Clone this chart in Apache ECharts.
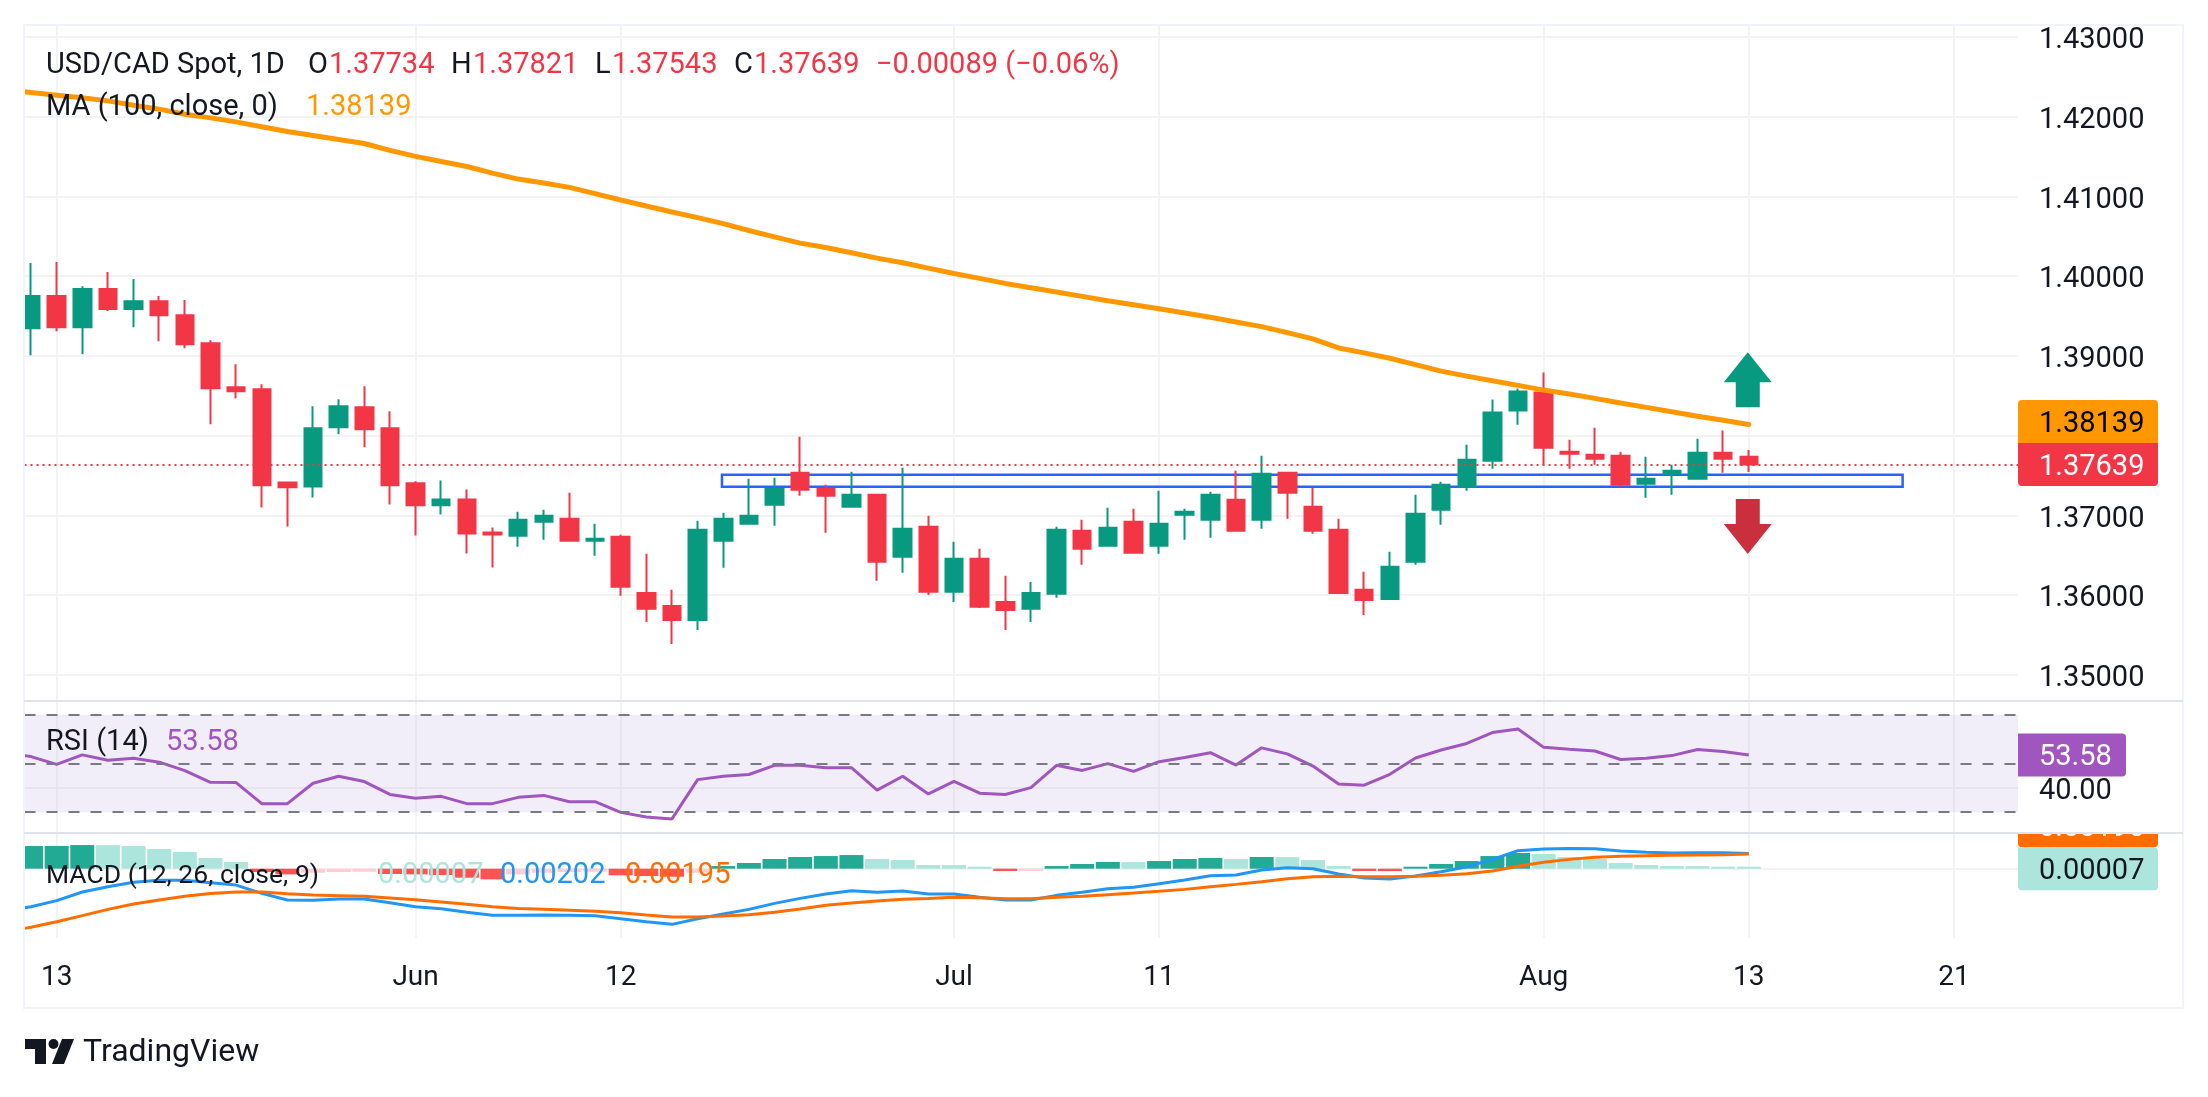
<!DOCTYPE html>
<html>
<head>
<meta charset="utf-8">
<title>USD/CAD Spot</title>
<style>
  html, body { margin: 0; padding: 0; background: #fff; }
  #chart { width: 2208px; height: 1097px; }
</style>
<script src="https://cdn.jsdelivr.net/npm/echarts@6/dist/echarts.min.js"></script>
</head>
<body>
<div id="chart"></div>
<script>
// daily candles, 12 May to 13 Aug
var opens = [1.39347,1.39749,1.3936,1.39837,1.39586,1.39686,1.3951,1.39159,1.38607,1.38582,1.37414,1.37364,1.38105,1.38356,1.38092,1.37402,1.37126,1.37201,1.36787,1.36745,1.36921,1.36958,1.36682,1.36732,1.36029,1.35866,1.3569,1.36682,1.36895,1.37134,1.37536,1.37335,1.37109,1.37259,1.36481,1.36858,1.36042,1.36456,1.35916,1.35829,1.36017,1.36808,1.36619,1.36921,1.36619,1.37008,1.36946,1.37197,1.36946,1.37536,1.37109,1.3682,1.36067,1.35954,1.36418,1.37071,1.3736,1.37686,1.38314,1.3854,1.37799,1.37762,1.37749,1.37397,1.37523,1.3746,1.37787,1.37734];
var closes = [1.39749,1.3936,1.39837,1.39586,1.39686,1.3951,1.39146,1.38594,1.38557,1.37377,1.37352,1.38092,1.38368,1.3808,1.37377,1.37126,1.37201,1.36774,1.36762,1.36946,1.36996,1.36682,1.36707,1.36105,1.35829,1.3569,1.3682,1.36958,1.36996,1.37335,1.37322,1.37247,1.37259,1.36418,1.36833,1.36042,1.36456,1.35854,1.35816,1.36029,1.3682,1.36582,1.36845,1.36531,1.36895,1.37046,1.37259,1.36808,1.37523,1.37285,1.36808,1.36029,1.35941,1.36356,1.37021,1.37385,1.37699,1.38289,1.38552,1.37849,1.37774,1.37711,1.37385,1.3746,1.37561,1.37787,1.37711,1.37639];
var lows = [1.39008,1.3931,1.39021,1.39561,1.3936,1.39184,1.39096,1.38142,1.38469,1.371,1.36862,1.37226,1.38017,1.37854,1.37138,1.36749,1.37013,1.36523,1.36347,1.36607,1.36695,1.36682,1.36494,1.35992,1.35665,1.35389,1.35565,1.36343,1.36883,1.3687,1.37247,1.36782,1.37109,1.3618,1.3628,1.36004,1.35916,1.35841,1.35565,1.35665,1.35967,1.36381,1.36607,1.36531,1.36519,1.36695,1.3672,1.36795,1.36833,1.36958,1.3677,1.36029,1.35753,1.35954,1.36381,1.36883,1.3731,1.37586,1.38138,1.37636,1.37586,1.37636,1.3736,1.37222,1.37259,1.37448,1.37536,1.37543];
var highs = [1.40163,1.40176,1.39874,1.4005,1.39962,1.39749,1.39699,1.39197,1.38895,1.38644,1.37414,1.38368,1.38456,1.38619,1.38305,1.37427,1.37439,1.37326,1.36849,1.37046,1.37071,1.37285,1.36895,1.36757,1.36519,1.36067,1.36933,1.37033,1.3746,1.37473,1.37987,1.37385,1.37548,1.37272,1.37598,1.36996,1.36669,1.36582,1.36243,1.36167,1.36858,1.36946,1.37096,1.37084,1.3731,1.37084,1.37297,1.37561,1.37749,1.37536,1.37347,1.36958,1.36293,1.36544,1.37259,1.37423,1.37887,1.38452,1.3859,1.38791,1.3795,1.381,1.37799,1.37736,1.37636,1.37962,1.38063,1.37821];
// 100 day moving average
var maValues = [1.423,1.42267,1.42234,1.42196,1.42142,1.42092,1.42029,1.41983,1.41933,1.41871,1.41812,1.41762,1.41712,1.41662,1.41575,1.415,1.41437,1.41374,1.41291,1.41216,1.41166,1.41112,1.41033,1.40953,1.40878,1.40803,1.40732,1.40657,1.40571,1.40492,1.40413,1.40359,1.40292,1.40225,1.40167,1.401,1.40033,1.39971,1.39908,1.39854,1.398,1.39746,1.39691,1.39641,1.39591,1.39537,1.39483,1.39425,1.39366,1.39291,1.39212,1.39099,1.39037,1.3897,1.3889,1.38809,1.38746,1.38688,1.3863,1.38571,1.38521,1.38467,1.38409,1.38354,1.383,1.38242,1.38192,1.38139];
var rsiValues = [52.9,49.7,53.6,51.4,52.2,50.6,47.1,42.3,42.2,33.5,33.5,41.9,44.8,42.6,37.3,35.7,36.5,33.5,33.5,36.1,36.9,34.3,34.3,29.9,28,27.2,43.4,44.8,45.5,49.3,49.3,48.3,48.3,39.1,44.8,37.5,42.7,37.8,37.3,40.1,49.3,47.2,50,46.8,50.8,52.5,54.5,49.4,56.5,54,49,41.6,41.1,45.6,52.3,55.6,58.3,62.8,64.3,56.7,55.9,55.2,51.7,52.2,53.3,55.8,55,53.58];
var macdValues = [-.00502,-.00422,-.00308,-.00238,-.0018,-.00154,-.00154,-.00185,-.00216,-.00326,-.00414,-.00418,-.004,-.004,-.00449,-.00502,-.00528,-.00576,-.00616,-.00616,-.00612,-.00616,-.0062,-.0066,-.007,-.00735,-.0066,-.00598,-.00537,-.00458,-.00392,-.00334,-.0029,-.00312,-.00295,-.00334,-.00334,-.00378,-.00414,-.00414,-.00352,-.00312,-.00264,-.00246,-.00198,-.0015,-.00092,-.00084,-.00018,.00013,0,-.0007,-.00123,-.00136,-.00097,-.0004,.00026,.00123,.00238,.0026,.00268,.00264,.00233,.00216,.00207,.00211,.00211,.00202];
var signalValues = [-.00774,-.007,-.0062,-.00537,-.00466,-.00414,-.00365,-.00326,-.00308,-.00308,-.0033,-.00348,-.00356,-.00365,-.00387,-.00409,-.0044,-.00471,-.00502,-.00524,-.00537,-.0055,-.00563,-.00581,-.00612,-.00638,-.00638,-.00625,-.00607,-.00576,-.00532,-.00484,-.00453,-.00427,-.00405,-.00392,-.00378,-.00383,-.00396,-.00396,-.00378,-.00365,-.00343,-.00321,-.00299,-.00273,-.00238,-.00207,-.00172,-.00132,-.00106,-.00101,-.00106,-.00106,-.00101,-.00088,-.00066,-.00031,.00031,.00084,.00123,.0015,.00163,.00172,.00176,.0018,.00185,.00195];
var histValues = [.00299,.003,.00312,.00311,.00299,.0026,.0022,.00141,.00088,-.00044,-.00075,-.00053,-.00044,-.0004,-.0007,-.00075,-.00084,-.00119,-.00141,-.00075,-.00053,-.00044,-.0004,-.00088,-.00097,-.00106,-.00053,.00035,.00075,.00128,.00154,.00167,.0018,.00128,.00114,.00048,.00047,.00022,-.00031,-.0003,.00035,.00062,.00088,.00087,.00101,.00128,.00141,.00128,.00154,.00153,.00114,.00035,-.00031,-.00032,.00022,.00062,.00101,.00167,.00207,.00194,.00154,.00128,.00075,.00048,.00035,.00034,.00022,.00007];
// where each line enters the pane on the left
var maAtEdge = 1.42309;
var rsiAtEdge = 53.3;
var macdAtEdge = -.00515;
var signalAtEdge = -.00788;

var timeTicks = [1, 15, 23, 36, 44, 59, 67, 75];
var timeLabels = ['13', 'Jun', '12', 'Jul', '11', 'Aug', '13', '21'];
var priceTicks = [1.35, 1.36, 1.37, 1.38, 1.39, 1.40, 1.41, 1.42, 1.43];
var zoneBounds = [1.3751, 1.3736];
var upArrowPrice = 1.38699;
var downArrowPrice = 1.36862;
var arrowBar = 66.96;

var FONT = 'Roboto';
var FONT_SIZE = 29;
var INK = '#131722';
var GREEN = '#089981';
var RED = '#F23645';
var GRID_COLOR = '#F3F3F4';
var PANE_LEFT = 24.5;
var PANE_RIGHT = 2018;
var X_MIN = -0.254;
var X_MAX = 77.5;

var lastClose = closes[closes.length - 1];

var candles = opens.map(function (o, i) {
  return [i, o, closes[i], lows[i], highs[i]];
});
function indexed(values, edge) {
  var points = values.map(function (v, i) { return [i, v]; });
  points.unshift([X_MIN, edge]);
  return points;
}
var histBars = histValues.map(function (v, i) {
  var prev = i ? histValues[i - 1] : -1;
  var color = v >= 0 ? (v >= prev ? '#22AB94' : '#ACE5DC') : (v < prev ? '#FF5252' : '#FFCDD2');
  return { value: [i, v], itemStyle: { color: color } };
});

function makeXAxis(gridIndex, showLabel) {
  return {
    type: 'value',
    gridIndex: gridIndex,
    min: X_MIN,
    max: X_MAX,
    axisLine: { show: false },
    axisTick: { show: false, customValues: timeTicks },
    splitLine: { show: true, lineStyle: { color: GRID_COLOR, width: 2 } },
    axisLabel: {
      show: showLabel,
      customValues: timeTicks,
      margin: 26,
      fontFamily: FONT,
      fontSize: 28,
      color: INK,
      formatter: function (v) { return timeLabels[timeTicks.indexOf(v)]; },
    },
  };
}

function makeYAxis(gridIndex, min, max, ticks, digits) {
  return {
    type: 'value',
    gridIndex: gridIndex,
    position: 'right',
    min: min,
    max: max,
    axisLine: { show: false },
    axisTick: { show: false, customValues: ticks },
    splitLine: { show: true, lineStyle: { color: GRID_COLOR, width: 2 } },
    axisLabel: {
      show: digits > 0,
      customValues: ticks,
      margin: 21,
      // thin top aligned line box drops the digits onto the gridline
      verticalAlign: 'top',
      lineHeight: 8,
      fontFamily: FONT,
      fontSize: FONT_SIZE,
      color: INK,
      formatter: function (v) { return v.toFixed(digits); },
    },
  };
}

var option = {
  animation: false,
  backgroundColor: '#fff',
  grid: [
    { left: PANE_LEFT, width: PANE_RIGHT - PANE_LEFT, top: 25, height: 676 },
    { left: PANE_LEFT, width: PANE_RIGHT - PANE_LEFT, top: 702, height: 131 },
    { left: PANE_LEFT, width: PANE_RIGHT - PANE_LEFT, top: 834, height: 104 },
  ],
  xAxis: [makeXAxis(0, false), makeXAxis(1, false), makeXAxis(2, true)],
  yAxis: [
    makeYAxis(0, 1.34674, 1.43147, priceTicks, 5),
    makeYAxis(1, 21.4, 75.4, [40], 2),
    makeYAxis(2, -0.00915, 0.00458, [0], 0),
  ],
  series: [
    {
      type: 'candlestick',
      xAxisIndex: 0,
      yAxisIndex: 0,
      barWidth: 18,
      data: candles,
      encode: { x: 0, y: [1, 2, 3, 4] },
      itemStyle: {
        color: GREEN,
        color0: RED,
        borderColor: GREEN,
        borderColor0: RED,
        borderWidth: 2,
      },
      markLine: {
        silent: true,
        symbol: 'none',
        label: { show: false },
        lineStyle: { color: RED, type: [2, 4], width: 2 },
        data: [[{ coord: [X_MIN, lastClose] }, { coord: [X_MAX, lastClose] }]],
      },
      markArea: {
        silent: true,
        itemStyle: { color: 'rgba(0,0,0,0)', borderColor: '#2962FF', borderWidth: 2.5, opacity: 1 },
        data: [[{ coord: [26.95, zoneBounds[0]] }, { coord: [73.0, zoneBounds[1]] }]],
      },
      markPoint: {
        silent: true,
        label: { show: false },
        symbolSize: [48, 55],
        data: [
          {
            coord: [arrowBar, upArrowPrice],
            symbol: 'path://M24 0L48 30L36 30L36 55L12 55L12 30L0 30Z',
            itemStyle: { color: GREEN },
          },
          {
            coord: [arrowBar, downArrowPrice],
            symbol: 'path://M12 0L36 0L36 25L48 25L24 55L0 25L12 25Z',
            itemStyle: { color: '#C92F3C' },
          },
        ],
      },
    },
    {
      type: 'line',
      xAxisIndex: 0,
      yAxisIndex: 0,
      data: indexed(maValues, maAtEdge),
      showSymbol: false,
      z: 4,
      lineStyle: { color: '#FF9800', width: 5, cap: 'round' },
    },
    {
      type: 'line',
      xAxisIndex: 1,
      yAxisIndex: 1,
      data: indexed(rsiValues, rsiAtEdge),
      showSymbol: false,
      z: 4,
      lineStyle: { color: '#A155BF', width: 3 },
      markArea: {
        silent: true,
        itemStyle: { color: 'rgba(126,87,194,0.1)' },
        data: [[{ yAxis: 70 }, { yAxis: 30 }]],
      },
      markLine: {
        silent: true,
        symbol: 'none',
        label: { show: false },
        lineStyle: { color: '#787B86', type: [11, 11], width: 2 },
        data: [
          [{ coord: [X_MIN, 70] }, { coord: [X_MAX, 70] }],
          [{ coord: [X_MIN, 50] }, { coord: [X_MAX, 50] }],
          [{ coord: [X_MIN, 30] }, { coord: [X_MAX, 30] }],
        ],
      },
    },
    {
      type: 'bar',
      xAxisIndex: 2,
      yAxisIndex: 2,
      barWidth: 24,
      barMinHeight: 2,
      data: histBars,
    },
    {
      type: 'line',
      xAxisIndex: 2,
      yAxisIndex: 2,
      data: indexed(macdValues, macdAtEdge),
      showSymbol: false,
      z: 4,
      lineStyle: { color: '#2196F3', width: 3 },
    },
    {
      type: 'line',
      xAxisIndex: 2,
      yAxisIndex: 2,
      data: indexed(signalValues, signalAtEdge),
      showSymbol: false,
      z: 5,
      lineStyle: { color: '#FF6D00', width: 3 },
    },
  ],
};

var chart = echarts.init(document.getElementById('chart'));
chart.setOption(option);

function label(x, y, text, color, size, z) {
  return {
    type: 'text',
    z: z || 20,
    x: x,
    y: y + 3,
    style: {
      text: text,
      fill: color,
      fontFamily: FONT,
      fontSize: size || FONT_SIZE,
      verticalAlign: 'middle',
      align: 'left',
    },
  };
}

function box(x, y, width, height, fill, radius, z) {
  return {
    type: 'rect',
    z: z || 19,
    shape: { x: x, y: y, width: width, height: height, r: radius || 0 },
    style: { fill: fill },
  };
}

function rule(x1, y1, x2, y2, color) {
  return {
    type: 'line',
    z: 24,
    shape: { x1: x1, y1: y1, x2: x2, y2: y2 },
    style: { stroke: color, lineWidth: 2 },
  };
}

// value tags on the scales follow the axes
var priceY = chart.convertToPixel({ yAxisIndex: 0 }, lastClose);
var rsiY = chart.convertToPixel({ yAxisIndex: 1 }, rsiValues[rsiValues.length - 1]);
var histY = chart.convertToPixel({ yAxisIndex: 2 }, 0);
var TAG_H = 43;

var tags = [
  box(PANE_RIGHT, priceY - TAG_H / 2 - TAG_H, 140, TAG_H + 1, '#FF9800', [4, 4, 0, 0]),
  label(2039, priceY - TAG_H, '1.38139', '#000'),
  box(PANE_RIGHT, priceY - TAG_H / 2, 140, TAG_H, RED, [0, 0, 4, 4]),
  label(2039, priceY, '1.37639', '#fff'),
  box(PANE_RIGHT, rsiY - TAG_H / 2, 108, TAG_H, '#A155BF', [0, 4, 4, 0]),
  label(2039, rsiY, '53.58', '#fff'),
  // signal tag is pushed up under the pane edge, as in the original
  box(PANE_RIGHT, histY - TAG_H / 2 - TAG_H, 140, TAG_H, '#FF6D00', [0, 0, 4, 4]),
  label(2039, histY - TAG_H, '0.00195', '#fff'),
  box(PANE_RIGHT, histY - TAG_H / 2 - TAG_H - 2, 140, 833 - (histY - TAG_H / 2 - TAG_H - 2), '#fff', 0, 22),
  box(PANE_RIGHT, histY - TAG_H / 2, 140, TAG_H, '#ACE5DC', [0, 4, 4, 4]),
  label(2039, histY, '0.00007', INK),
];

var legend = [
  label(46, 63, 'USD/CAD Spot, 1D', INK),
  label(308, 63, 'O', INK),
  label(329, 63, '1.37734', RED),
  label(451, 63, 'H', INK),
  label(473, 63, '1.37821', RED),
  label(595, 63, 'L', INK),
  label(612, 63, '1.37543', RED),
  label(734, 63, 'C', INK),
  label(754, 63, '1.37639', RED),
  label(876, 63, '\u22120.00089 (\u22120.06%)', RED),
  label(46, 105, 'MA (100, close, 0)', INK),
  label(306, 105, '1.38139', '#FF9800'),
  label(46, 740, 'RSI (14)', INK),
  label(166, 740, '53.58', '#A155BF'),
  label(46, 873, 'MACD (12, 26, close, 9)', INK, 26.5),
  label(378, 873, '0.00007', '#ACE5DC'),
  label(500, 873, '0.00202', '#2196F3'),
  label(625, 873, '0.00195', '#FF6D00'),
];

var frame = [
  // first bar is cut by the pane edge
  box(0, 25, 24, 913, '#fff', 0, 17),
  { type: 'rect', z: 18, shape: { x: 24, y: 25, width: 2159, height: 983 }, style: { fill: 'none', stroke: '#F0F3FA', lineWidth: 2 } },
  rule(24, 701, 2183, 701, '#E0E3EB'),
  rule(24, 833, 2183, 833, '#E0E3EB'),
];

var logo = [
  { type: 'polygon', z: 20, shape: { points: [[25, 1039], [46, 1039], [46, 1064], [35, 1064], [35, 1049], [25, 1049]] }, style: { fill: INK } },
  { type: 'circle', z: 20, shape: { cx: 53.5, cy: 1044, r: 5 }, style: { fill: INK } },
  { type: 'polygon', z: 20, shape: { points: [[62, 1039], [74, 1039], [64, 1064], [52, 1064]] }, style: { fill: INK } },
  label(83, 1050, 'TradingView', INK, 32),
];

chart.setOption({ graphic: { elements: frame.concat(tags, legend, logo) } });
</script>
</body>
</html>
